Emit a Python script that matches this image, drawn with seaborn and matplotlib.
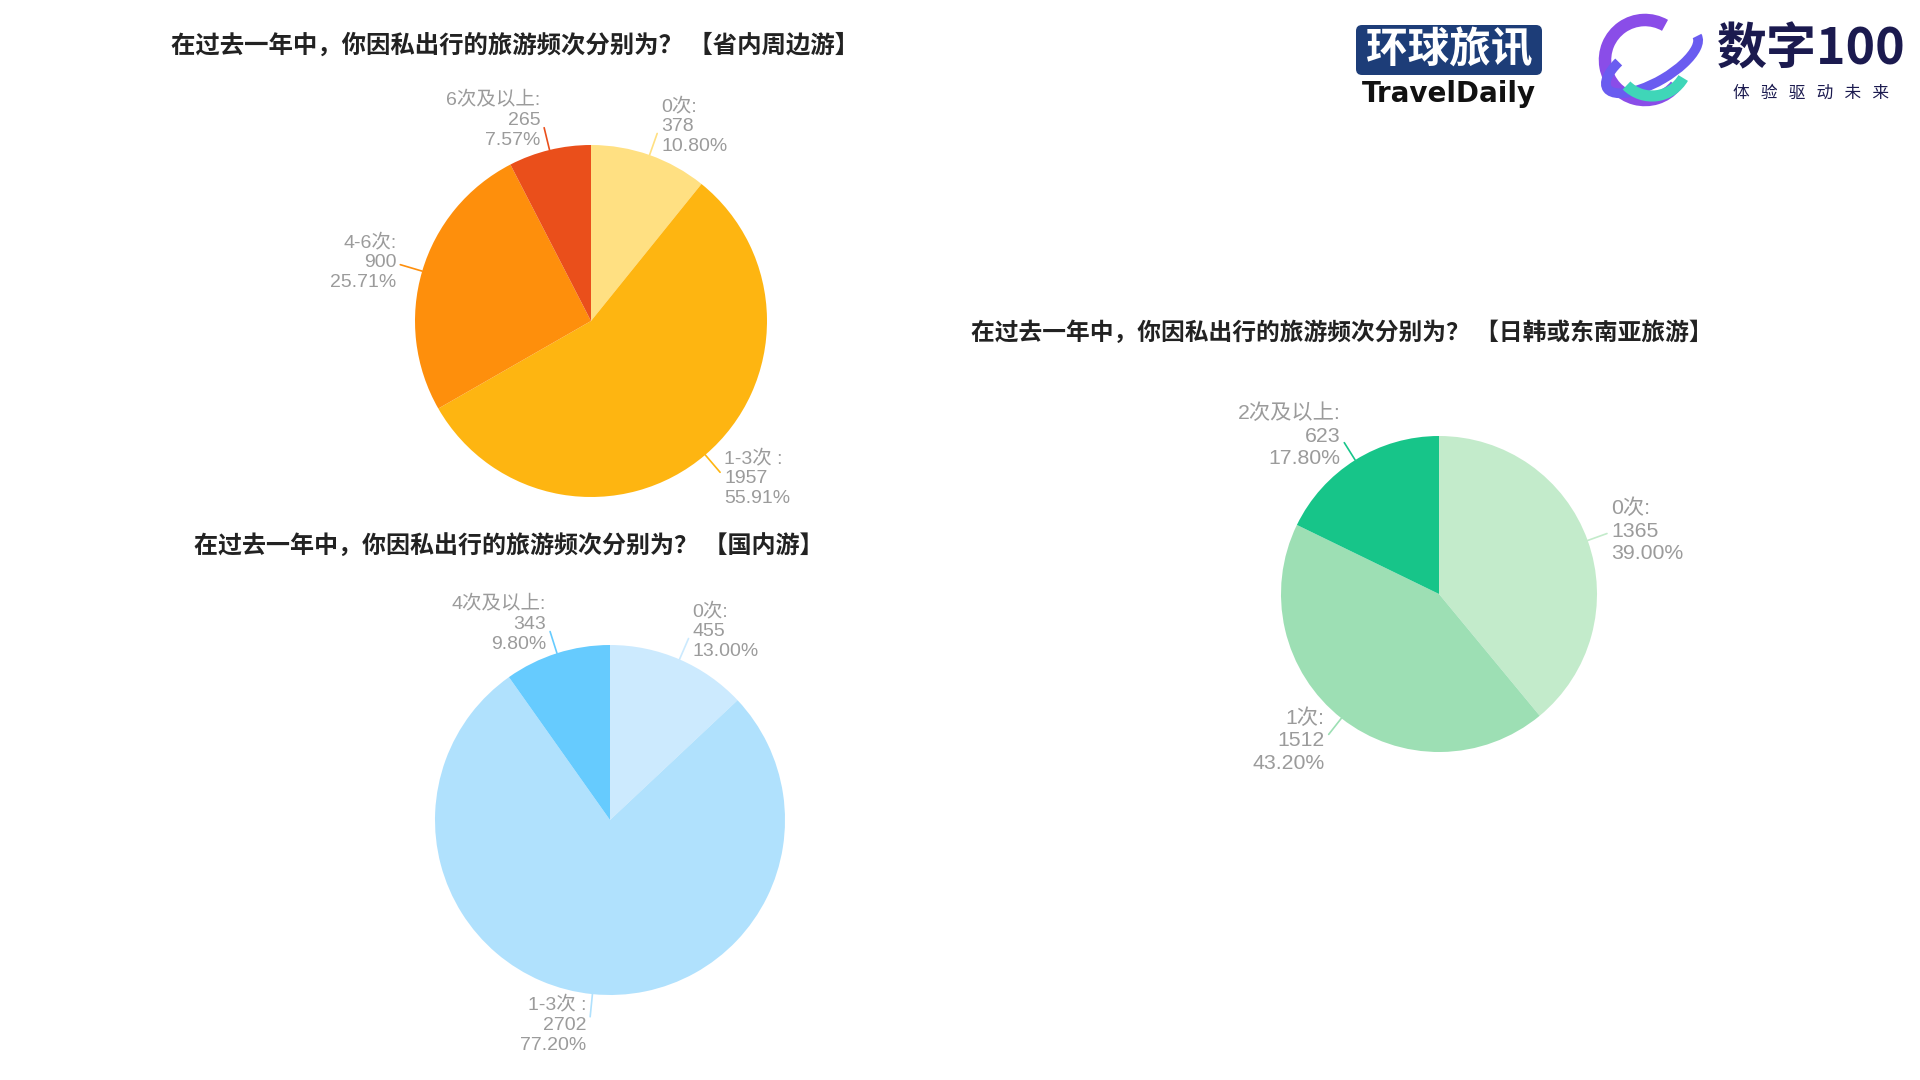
import numpy as np
import matplotlib.pyplot as plt
import seaborn as sns
from matplotlib.patches import FancyBboxPatch, Arc

sns.set_theme(style="white")
plt.rcParams['font.family'] = ['Liberation Sans', 'Noto Sans CJK SC', 'DejaVu Sans']

W, H = 1920, 1080

# data
local_labels = ['0次:', '1-3次 :', '4-6次:', '6次及以上:']
local_counts = [378, 1957, 900, 265]
local_colors = ['#FFE082', '#FEB511', '#FE8F0C', '#EA4F1B']

national_labels = ['0次:', '1-3次 :', '4次及以上:']
national_counts = [455, 2702, 343]
national_colors = ['#CCEAFE', '#B0E1FD', '#66CBFE']

asia_labels = ['0次:', '1次:', '2次及以上:']
asia_counts = [1365, 1512, 623]
asia_colors = ['#C3EBCB', '#9DDFB4', '#17C589']

q = '在过去一年中，你因私出行的旅游频次分别为？ '
titles = [q + '【省内周边游】', q + '【国内游】', q + '【日韩或东南亚旅游】']

cjk = ['Noto Sans CJK SC', 'DejaVu Sans']
grey = '#9b9b9b'


def draw_pie(ax, counts, labels, colors, cx, cy, r, fs, title, tx, ty, tfs):
    cy = H - cy
    wedges, _ = ax.pie(counts, colors=sns.color_palette(colors), startangle=90,
                       counterclock=False, center=(cx, cy), radius=r,
                       wedgeprops=dict(linewidth=0))
    total = sum(counts)
    for w, n, lab in zip(wedges, counts, labels):
        ang = np.deg2rad((w.theta1 + w.theta2) / 2)
        c, s = np.cos(ang), np.sin(ang)
        ax.plot([cx + r * c, cx + 1.13 * r * c], [cy + r * s, cy + 1.13 * r * s],
                color=w.get_facecolor(), lw=1.2)
        ha = 'left' if c > 0 else 'right'
        ax.text(cx + 1.13 * r * c + 4 * np.sign(c), cy + 1.13 * r * s + 8 * s,
                f"{lab}\n{n}\n{n / total * 100:.2f}%", ha=ha, va='center',
                fontsize=fs, color=grey, linespacing=1.22)
    ax.text(tx, H - ty, title, ha='center', va='center', fontsize=tfs,
            fontweight='bold', color='#222222', family=cjk)


fig = plt.figure(figsize=(19.2, 10.8), dpi=100)
ax = fig.add_axes([0, 0, 1, 1])

draw_pie(ax, local_counts, local_labels, local_colors, 591, 321, 176, 14, titles[0], 515, 46, 17.6)
draw_pie(ax, national_counts, national_labels, national_colors, 610, 820, 175, 14, titles[1], 509, 546, 17.3)
draw_pie(ax, asia_counts, asia_labels, asia_colors, 1439, 594, 158, 15.3, titles[2], 1342, 333, 17.1)

# logos
ax.add_patch(FancyBboxPatch((1356, H - 75), 186, 50, boxstyle='round,pad=0,rounding_size=6',
                            facecolor='#1d3d78', edgecolor='none'))
ax.text(1449, H - 50, '环球旅讯', ha='center', va='center', fontsize=30,
        fontweight='heavy', color='white', family=cjk)
ax.text(1449, H - 94, 'TravelDaily', ha='center', va='center', fontsize=20,
        fontweight='bold', color='#111111', family=['DejaVu Sans'])

ax.add_patch(Arc((1645, H - 60), 80, 80, theta1=60, theta2=320, lw=9, color='#8a4de8'))
ax.add_patch(Arc((1652, H - 62), 104, 40, angle=30, theta1=150, theta2=360, lw=7, color='#6a5cf0'))
ax.add_patch(Arc((1652, H - 60), 72, 72, theta1=225, theta2=330, lw=8, color='#3fd6b8'))

ax.text(1811, H - 50, '数字100', ha='center', va='center', fontsize=36,
        fontweight='bold', color='#1b1a4f', family=cjk)
ax.text(1811, H - 93, '体   验   驱   动   未   来', ha='center', va='center', fontsize=12,
        color='#1b1a4f', family=cjk)

ax.set_xlim(0, W)
ax.set_ylim(0, H)
ax.set_aspect('auto')
ax.axis('off')

fig.savefig('out.png', dpi=100)
